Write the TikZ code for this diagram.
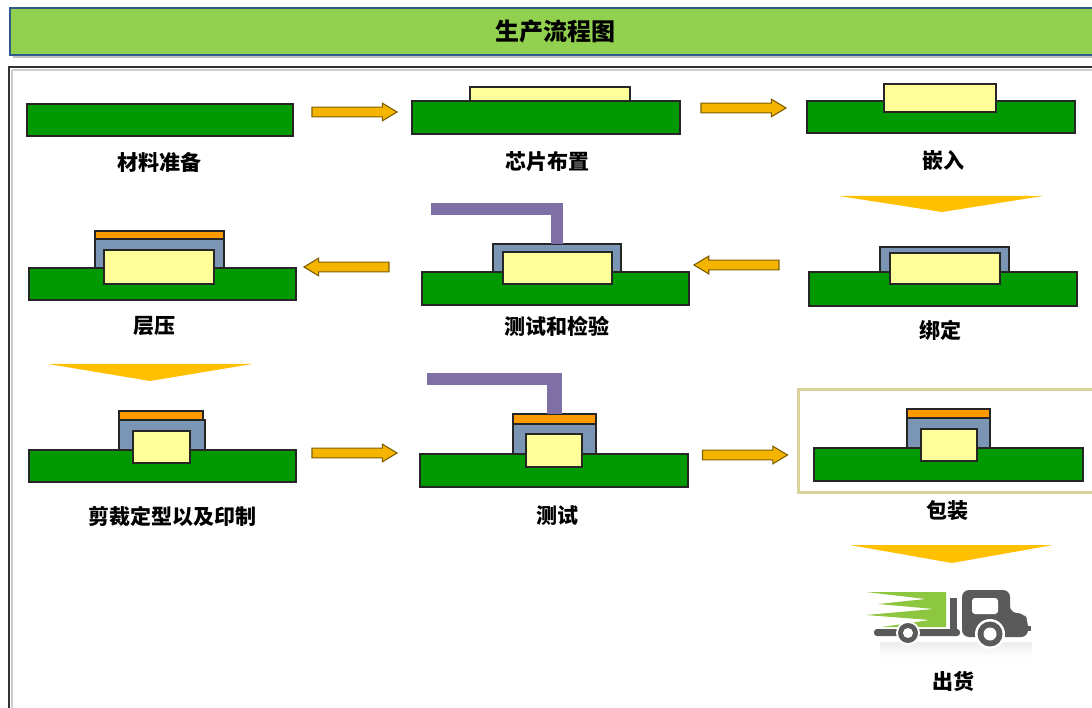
\documentclass[tikz,border=0pt]{standalone}
\usepackage{fontspec}
\newfontfamily\cjk{Noto Sans CJK SC}
\usetikzlibrary{shapes.arrows}
\definecolor{barfill}{HTML}{92D050}
\definecolor{baredge}{HTML}{2E5B8A}
\definecolor{boardgreen}{HTML}{009900}
\definecolor{chipyellow}{HTML}{FFFF99}
\definecolor{moldblue}{HTML}{7A96B4}
\definecolor{coatorange}{HTML}{FF9900}
\definecolor{probepurple}{HTML}{7E70A6}
\definecolor{arrowfill}{HTML}{F5B400}
\definecolor{arrowedge}{HTML}{7F6000}
\definecolor{chevfill}{HTML}{FFC000}
\definecolor{boxedge}{HTML}{D9D29A}
\definecolor{truckgray}{HTML}{5A5A5A}
\definecolor{speedgreen}{HTML}{8DC63F}
\begin{document}
\begin{tikzpicture}[x=1pt,y=-1pt,
  part/.style={draw=black!85, line width=1.1pt},
  board/.style={part, fill=boardgreen},
  die/.style={part, fill=chipyellow},
  mold/.style={part, fill=moldblue},
  coat/.style={part, fill=coatorange},
  probe/.style={fill=probepurple},
  chevron/.style={fill=chevfill},
  lbl/.style={font=\cjk\bfseries\fontsize{21}{24}\selectfont, text=black, inner sep=0pt},
  flowarrow/.style={single arrow, draw=arrowedge, fill=arrowfill, line width=1.1pt,
    minimum height=85pt, minimum width=1pt, inner xsep=0pt, inner ysep=4.3pt,
    single arrow head extend=4pt, single arrow tip angle=62},
  backarrow/.style={flowarrow, shape border rotate=180}
]
\useasboundingbox (0,0) rectangle (1092,708);
\fill[white] (0,0) rectangle (1092,708);

% title bar
\fill[black!25] (13,11) rectangle (1100,58);
\filldraw[fill=barfill, draw=baredge, line width=1.2pt] (10,8) rectangle (1100,55);
\node[font=\cjk\bfseries\fontsize{24}{28}\selectfont] (title) at (555,31) {生产流程图};

% main frame
\draw[black!20, line width=1.5pt] (12,70) -- (12,720);
\draw[black!20, line width=1.5pt] (12,70) -- (1100,70);
\draw[black!80, line width=1.5pt] (1100,67) -- (9,67) -- (9,720);

% 1 material preparation
\path[board] (27,104) rectangle (293,136);
\node[lbl] (l1) at (159,162) {材料准备};

% 2 chip placement
\path[board] (412,101) rectangle (680,134);
\path[die] (470,87) rectangle (630,101);
\node[lbl] (l2) at (547,162) {芯片布置};

% 3 embedding
\path[board] (807,101) rectangle (1075,133);
\path[die] (884,84) rectangle (996,112);
\node[lbl] (l3) at (943,161) {嵌入};

% 4 lamination
\path[board] (29,268) rectangle (296,300);
\path[mold] (95,239) rectangle (224,268);
\path[coat] (95,231) rectangle (224,239);
\path[die] (104,250) rectangle (214,284);
\node[lbl] (l4) at (154,326) {层压};

% 5 test and inspection
\path[board] (422,272) rectangle (689,305);
\path[mold] (493,244) rectangle (621,272);
\path[die] (503,252) rectangle (612,284);
\path[probe] (431,203) rectangle (563,215);
\path[probe] (551,203) rectangle (563,244);
\node[lbl] (l5) at (557,326) {测试和检验};

% 6 bonding
\path[board] (809,272) rectangle (1077,306);
\path[mold] (880,247) rectangle (1009,272);
\path[die] (890,253) rectangle (1000,284);
\node[lbl] (l6) at (940,330) {绑定};

% 7 trimming, forming and printing
\path[board] (29,450) rectangle (296,482);
\path[mold] (119,420) rectangle (205,450);
\path[coat] (119,411) rectangle (203,420);
\path[die] (133,431) rectangle (190,463);
\node[lbl] (l7) at (172,516) {剪裁定型以及印制};

% 8 test
\path[board] (420,454) rectangle (688,487);
\path[mold] (513,424) rectangle (596,454);
\path[coat] (513,414) rectangle (596,424);
\path[die] (526,434) rectangle (582,467);
\path[probe] (427,373) rectangle (562,385);
\path[probe] (547,373) rectangle (562,414);
\node[lbl] (l8) at (557,516) {测试};

% 9 packaging
\draw[boxedge, line width=3pt] (1100,389) -- (798,389) -- (798,492) -- (1100,492);
\path[board] (814,448) rectangle (1083,481);
\path[mold] (907,418) rectangle (990,448);
\path[coat] (907,409) rectangle (990,418);
\path[die] (921,429) rectangle (977,461);
\node[lbl] (l9) at (947,511) {包装};

% flow arrows
\node[flowarrow] (a1) at (350.5,112) {};
\node[flowarrow] (a2) at (739.5,108) {};
\node[backarrow] (a3) at (740.5,265) {};
\node[backarrow] (a4) at (350.5,267) {};
\node[flowarrow] (a5) at (350.5,453) {};
\node[flowarrow] (a6) at (741,455) {};

% down chevrons
\path[chevron] (839,196) -- (1043,196) -- (942,212) -- cycle;
\path[chevron] (48,364) -- (252,364) -- (150,381) -- cycle;
\path[chevron] (850,545) -- (1053,545) -- (952,563) -- cycle;

% delivery truck
\shade[top color=black!7, bottom color=white] (880,642) rectangle (1032,658);
\fill[speedgreen] (946,592) -- (866,592) -- (926,599) -- (878,604) -- (934,609)
  -- (866,615) -- (930,620) -- (882,627) -- (946,627) -- cycle;
\fill[truckgray, rounded corners=3pt] (874,629) rectangle (960,636);
\fill[truckgray] (950,598) rectangle (957,636);
\fill[truckgray, rounded corners=7pt] (962,637) -- (962,590) -- (1010,590)
  -- (1010,613) -- (1024,613) -- (1028,621) -- (1028,637) -- cycle;
\fill[truckgray] (1026,626) rectangle (1031,631);
\fill[white, rounded corners=3pt] (972,598) rectangle (998,614);
\fill[white] (990,634) circle (15);
\fill[truckgray] (990,634) circle (12.5);
\fill[white] (990,634) circle (6.5);
\fill[white] (908,633) circle (12);
\fill[truckgray] (908,633) circle (10);
\fill[white] (908,633) circle (5);
\node[lbl] (l10) at (953,681) {出货};
\end{tikzpicture}
\end{document}
